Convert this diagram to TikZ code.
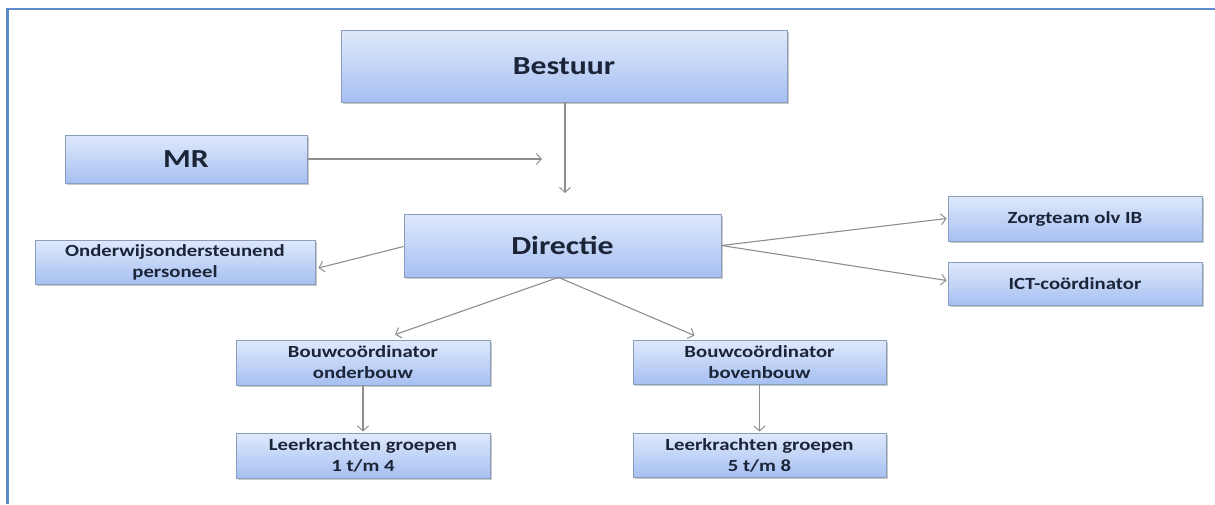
\documentclass[tikz,border=0pt]{standalone}
\usepackage{fontspec}
\setmainfont{Carlito}
\newfontfamily\wfont[FakeStretch=1.22]{Carlito}
\usetikzlibrary{arrows.meta,shadows,calc}
\definecolor{frameblue}{HTML}{5B8BC8}
\definecolor{boxtop}{HTML}{DFE9FB}
\definecolor{boxbot}{HTML}{A6C0F2}
\definecolor{boxline}{HTML}{8A9DBD}
\definecolor{txt}{HTML}{1C2438}
\definecolor{arr}{HTML}{8E8E8E}
\tikzset{
  box/.style={rectangle, draw=boxline, line width=0.8pt, top color=boxtop, bottom color=boxbot,
    inner sep=0pt, text=txt, align=center,
    drop shadow={shadow xshift=1.5pt, shadow yshift=-2pt, opacity=0.35, fill=black!60}},
  bigtext/.style={font=\wfont\bfseries\fontsize{26}{30}\selectfont},
  smalltext/.style={font=\wfont\bfseries\fontsize{17}{21}\selectfont},
  conn/.style={draw=arr, line width=1.1pt, -{Straight Barb[length=5pt,width=11pt,line width=1pt]}}
}
\begin{document}
\begin{tikzpicture}[x=1pt,y=-1pt]
\useasboundingbox (0,0) rectangle (1215,504);
\fill[white] (0,0) rectangle (1215,504);
\draw[frameblue, line width=2.5pt] (7.5,504) -- (7.5,9) -- (1215,9);

\node[box,bigtext,minimum width=446pt,minimum height=72pt] (bestuur) at (564,66) {Bestuur};
\node[box,bigtext,minimum width=242pt,minimum height=48pt] (mr) at (186,159) {MR};
\node[box,bigtext,minimum width=317pt,minimum height=63pt] (dir) at (562.5,245.5) {Directie};
\node[box,smalltext,minimum width=280pt,minimum height=44pt] (oop) at (175,262) {Onderwijsondersteunend\\personeel};
\node[box,smalltext,minimum width=254pt,minimum height=45pt] (zorg) at (1075,218.5) {Zorgteam olv IB};
\node[box,smalltext,minimum width=254pt,minimum height=43pt] (ict) at (1075,283.5) {ICT-coördinator};
\node[box,smalltext,minimum width=254pt,minimum height=45pt] (ob) at (363,362.5) {Bouwcoördinator\\onderbouw};
\node[box,smalltext,minimum width=253pt,minimum height=44pt] (bb) at (759.5,362) {Bouwcoördinator\\bovenbouw};
\node[box,smalltext,minimum width=254pt,minimum height=45pt] (l1) at (363,455.5) {Leerkrachten groepen\\1 t/m 4};
\node[box,smalltext,minimum width=253pt,minimum height=44pt] (l5) at (759.5,455) {Leerkrachten groepen\\5 t/m 8};

\coordinate (mrend) at (542,159);
\coordinate (bend) at (565,193);
\draw[conn] (mr.east) -- (mrend);
\draw[conn] (bestuur.south -| bend) -- (bend);
\draw[conn] ($(dir.west)+(0,1)$) -- ($(oop.east)+(3,6)$);
\draw[conn] (dir.east) -- ($(zorg.west)+(-1,0)$);
\draw[conn] (dir.east) -- ($(ict.west)+(-1,-3)$);
\draw[conn] ($(dir.south)+(-4,0)$) -- ($(ob.north)+(32,-5)$);
\draw[conn] ($(dir.south)+(-4,0)$) -- ($(bb.north)+(-65,-4)$);
\draw[conn] (ob.south) -- ($(l1.north)+(0,-1)$);
\draw[conn] (bb.south) -- ($(l5.north)+(0,-1)$);
\end{tikzpicture}
\end{document}
